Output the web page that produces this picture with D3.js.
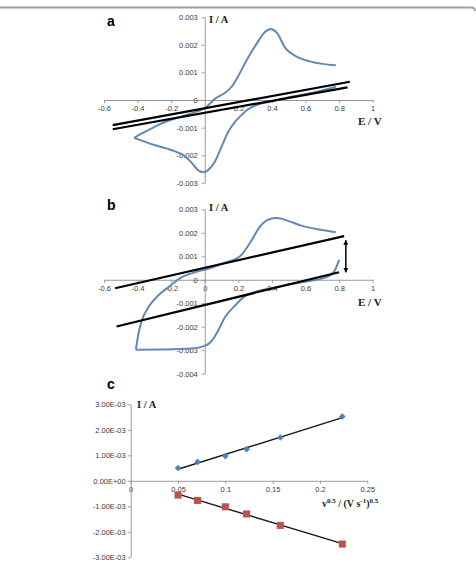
<!DOCTYPE html>
<html>
<head>
<meta charset="utf-8">
<script src="https://cdn.jsdelivr.net/npm/d3@7"></script>
<style>
  html, body { margin: 0; padding: 0; background: #fff; }
  svg { display: block; }
  .tick text { font-family: "Liberation Sans", Arial, sans-serif; font-size: 7.5px; fill: #3a3a3a; }
  .tick line, .domain { stroke: #9a9a9a; stroke-width: 1; }
</style>
</head>
<body>
<svg id="chart" width="476" height="563"></svg>
<script>
// ---------------- DATA ----------------
// Panel a: cyclic voltammogram (E / V, I / A)
const aAnodicE = [-0.42, -0.375, -0.316, -0.257, -0.15, -0.05, 0.0, 0.06, 0.12, 0.16, 0.20, 0.25, 0.31, 0.36, 0.39, 0.43, 0.48, 0.53, 0.63, 0.78];
const aAnodicI = [-0.00137, -0.00121, -0.00103, -0.00085, -0.00062, -0.00042, -0.0003, 0.00004, 0.00026, 0.00048, 0.00088, 0.00145, 0.00205, 0.00247, 0.00257, 0.00243, 0.00188, 0.00163, 0.00139, 0.00126];
const aCathodicE = [0.78, 0.65, 0.5, 0.4, 0.32, 0.28, 0.25, 0.22, 0.18, 0.14, 0.10, 0.06, 0.02, -0.01, -0.04, -0.08, -0.12, -0.2, -0.3, -0.42];
const aCathodicI = [0.00048, 0.00027, 0.0001, -0.00005, -0.00016, -0.00026, -0.00037, -0.00054, -0.00079, -0.00115, -0.00169, -0.00224, -0.00254, -0.00262, -0.00254, -0.00226, -0.00203, -0.00181, -0.00163, -0.00137];
// Panel a: two straight background lines [E, I] end points
const aLine1E = [-0.548, 0.864], aLine1I = [-0.00091, 0.00066];
const aLine2E = [-0.548, 0.85],  aLine2I = [-0.00106, 0.00046];

// Panel b
const bAnodicE = [-0.41, -0.395, -0.375, -0.336, -0.277, -0.217, -0.137, -0.058, 0.02, 0.13, 0.21, 0.27, 0.33, 0.38, 0.43, 0.50, 0.57, 0.69, 0.78];
const bAnodicI = [-0.00298, -0.0023, -0.00174, -0.00117, -0.00067, -0.00032, 0.00011, 0.00032, 0.00047, 0.00075, 0.00100, 0.00158, 0.00228, 0.00257, 0.00263, 0.0025, 0.00232, 0.00213, 0.00203];
const bCathodicE = [0.80, 0.77, 0.72, 0.62, 0.5, 0.4, 0.3, 0.24, 0.18, 0.12, 0.08, 0.04, 0.0, -0.08, -0.26, -0.41];
const bCathodicI = [0.00085, 0.00035, 0.0001, -0.00005, -0.0002, -0.00035, -0.00052, -0.0007, -0.0011, -0.0016, -0.00216, -0.00262, -0.00282, -0.00293, -0.00297, -0.00298];
const bLine1E = [-0.534, 0.83], bLine1I = [-0.00036, 0.00186];
const bLine2E = [-0.525, 0.80], bLine2I = [-0.00199, 0.00032];
const bArrowE = 0.84, bArrowI = [0.00168, 0.00032];

// Panel c: peak currents vs square root of scan rate
const sqrtScanRate = [0.05, 0.0707, 0.1, 0.1225, 0.1581, 0.2236];
const anodicPeak   = [0.0005, 0.00074, 0.00097, 0.00124, 0.0017, 0.00252];
const cathodicPeak = [-0.00056, -0.00077, -0.00102, -0.0013, -0.00175, -0.00248];

// Ticks
const abXTicks = [-0.6, -0.4, -0.2, 0, 0.2, 0.4, 0.6, 0.8, 1];
const abXLabels = ["-0.6", "-0.4", "-0.2", "0", "0.2", "0.4", "0.6", "0.8", "1"];
const aYTicks = [-0.003, -0.002, -0.001, 0, 0.001, 0.002, 0.003];
const aYLabels = ["-0.003", "-0.002", "-0.001", "0", "0.001", "0.002", "0.003"];
const bYTicks = [-0.004, -0.003, -0.002, -0.001, 0, 0.001, 0.002, 0.003];
const bYLabels = ["-0.004", "-0.003", "-0.002", "-0.001", "0", "0.001", "0.002", "0.003"];
const cXTicks = [0, 0.05, 0.1, 0.15, 0.2, 0.25];
const cXLabels = ["0", "0.05", "0.1", "0.15", "0.2", "0.25"];
const cYTicks = [-0.003, -0.002, -0.001, 0, 0.001, 0.002, 0.003];
const cYLabels = ["-3.00E-03", "-2.00E-03", "-1.00E-03", "0.00E+00", "1.00E-03", "2.00E-03", "3.00E-03"];

// ---------------- DRAW ----------------
const svg = d3.select("#chart");
svg.append("rect").attr("width", 476).attr("height", 563).attr("fill", "#fff");
// top frame line
svg.append("path").attr("d", "M0,7.5 H471 Q475,7.5 475,11")
  .attr("fill", "none").attr("stroke", "#a0a0a0").attr("stroke-width", 2);

const cvColor = "#6189b4";
const serif = "'Liberation Serif', 'Times New Roman', serif";
const sans = "'Liberation Sans', Arial, sans-serif";

const defs = svg.append("defs");
defs.append("marker").attr("id", "arrowHead").attr("viewBox", "0 0 10 10")
  .attr("refX", 9).attr("refY", 5).attr("markerWidth", 5).attr("markerHeight", 5)
  .attr("markerUnits", "userSpaceOnUse")
  .attr("orient", "auto-start-reverse")
  .append("path").attr("d", "M0,0 L10,5 L0,10 Z").attr("fill", "#000");

function zip(xs, ys) { return xs.map((x, i) => [x, ys[i]]); }

function drawXAxis(g, x, y0, ticks, labels) {
  const ax = d3.axisBottom(x).tickValues(ticks).tickSize(3).tickSizeOuter(0).tickPadding(3)
    .tickFormat((d, i) => labels[i]);
  g.append("g").attr("transform", `translate(0,${y0})`).call(ax);
}
function drawYAxis(g, y, x0, ticks, labels, pad) {
  const ax = d3.axisLeft(y).tickValues(ticks).tickSize(3).tickSizeOuter(0).tickPadding(pad)
    .tickFormat((d, i) => labels[i]);
  g.append("g").attr("transform", `translate(${x0},0)`).call(ax);
}

function cvPanel(opts) {
  const g = svg.append("g");
  const x = d3.scaleLinear().domain([-0.6, 1]).range([104, 372.7]);
  const y = d3.scaleLinear().domain(opts.yDomain).range(opts.yRange);
  drawXAxis(g, x, y(0), abXTicks.filter(t => opts.showZero || t !== 0),
    abXLabels.filter((l, i) => opts.showZero || abXTicks[i] !== 0));
  drawYAxis(g, y, x(0), opts.yTicks, opts.yLabels, 4);

  const line = d3.line().x(d => x(d[0])).y(d => y(d[1])).curve(d3.curveMonotoneX);
  const straight = d3.line().x(d => x(d[0])).y(d => y(d[1]));
  opts.branches.forEach(b => {
    const pts = b.slice().sort((p, q) => p[0] - q[0]);
    g.append("path").attr("d", line(pts)).attr("fill", "none")
      .attr("stroke", cvColor).attr("stroke-width", 2).attr("stroke-linejoin", "round");
  });
  opts.lines.forEach(l => {
    g.append("path").attr("d", straight(l)).attr("fill", "none")
      .attr("stroke", "#000").attr("stroke-width", 2.2);
  });
  if (opts.arrow) {
    g.append("line").attr("x1", x(opts.arrow.e)).attr("x2", x(opts.arrow.e))
      .attr("y1", y(opts.arrow.i[0])).attr("y2", y(opts.arrow.i[1]))
      .attr("stroke", "#000").attr("stroke-width", 1.5)
      .attr("marker-start", "url(#arrowHead)").attr("marker-end", "url(#arrowHead)");
  }
  // labels
  g.append("text").attr("x", 107).attr("y", opts.letterY).text(opts.letter)
    .attr("font-family", sans).attr("font-weight", "bold").attr("font-size", 14);
  g.append("text").attr("x", 209).attr("y", opts.iaY).text("I / A")
    .attr("font-family", serif).attr("font-weight", "bold").attr("font-size", 10.5).attr("fill", "#222");
  g.append("text").attr("x", 358).attr("y", opts.evY).text("E / V")
    .attr("font-family", serif).attr("font-weight", "bold").attr("font-size", 11).attr("fill", "#222");
}

cvPanel({
  yDomain: [-0.003, 0.003], yRange: [182.8, 17.2],
  yTicks: aYTicks, yLabels: aYLabels, showZero: false,
  branches: [zip(aAnodicE, aAnodicI), zip(aCathodicE, aCathodicI)],
  lines: [zip(aLine1E, aLine1I), zip(aLine2E, aLine2I)],
  letter: "a", letterY: 26, iaY: 23, evY: 125
});
cvPanel({
  yDomain: [-0.004, 0.003], yRange: [373.6, 209.4],
  yTicks: bYTicks, yLabels: bYLabels, showZero: true,
  branches: [zip(bAnodicE, bAnodicI), zip(bCathodicE, bCathodicI)],
  lines: [zip(bLine1E, bLine1I), zip(bLine2E, bLine2I)],
  arrow: { e: bArrowE, i: bArrowI },
  letter: "b", letterY: 210, iaY: 211, evY: 306
});

// Panel c
(function () {
  const g = svg.append("g");
  const x = d3.scaleLinear().domain([0, 0.25]).range([130.7, 367.3]);
  const y = d3.scaleLinear().domain([-0.003, 0.003]).range([557.3, 404.3]);
  drawXAxis(g, x, y(0), cXTicks, cXLabels);
  drawYAxis(g, y, x(0), cYTicks, cYLabels, 2);

  function fit(xs, ys) {
    const mx = d3.mean(xs), my = d3.mean(ys);
    const sxy = d3.sum(xs, (v, i) => (v - mx) * (ys[i] - my));
    const sxx = d3.sum(xs, v => (v - mx) * (v - mx));
    const m = sxy / sxx;
    return v => my + m * (v - mx);
  }
  const x0 = d3.min(sqrtScanRate), x1 = d3.max(sqrtScanRate);
  [anodicPeak, cathodicPeak].forEach(ser => {
    const f = fit(sqrtScanRate, ser);
    g.append("line").attr("x1", x(x0)).attr("y1", y(f(x0))).attr("x2", x(x1)).attr("y2", y(f(x1)))
      .attr("stroke", "#1a1a1a").attr("stroke-width", 1.4);
  });
  const sq = d3.symbol().type(d3.symbolSquare);
  g.selectAll(".dia").data(zip(sqrtScanRate, anodicPeak)).join("path")
    .attr("d", sq.size(22)())
    .attr("transform", d => `translate(${x(d[0])},${y(d[1])}) rotate(45)`)
    .attr("fill", "#4f81bd");
  g.selectAll(".sqr").data(zip(sqrtScanRate, cathodicPeak)).join("path")
    .attr("d", d3.symbol().type(d3.symbolSquare).size(50)())
    .attr("transform", d => `translate(${x(d[0])},${y(d[1])})`)
    .attr("fill", "#c0504d");

  g.append("text").attr("x", 107).attr("y", 389).text("c")
    .attr("font-family", sans).attr("font-weight", "bold").attr("font-size", 14);
  g.append("text").attr("x", 137).attr("y", 407.5).text("I / A")
    .attr("font-family", serif).attr("font-weight", "bold").attr("font-size", 10.5).attr("fill", "#222");
  const t = g.append("text").attr("x", 322).attr("y", 507)
    .attr("font-family", serif).attr("font-weight", "bold").attr("font-size", 10).attr("fill", "#222");
  t.append("tspan").text("v");
  t.append("tspan").attr("dy", -4).attr("font-size", 7).text("0.5");
  t.append("tspan").attr("dy", 4).text(" / (V s");
  t.append("tspan").attr("dy", -4).attr("font-size", 7).text("-1");
  t.append("tspan").attr("dy", 4).text(")");
  t.append("tspan").attr("dy", -4).attr("font-size", 7).text("0.5");
})();
</script>
</body>
</html>
